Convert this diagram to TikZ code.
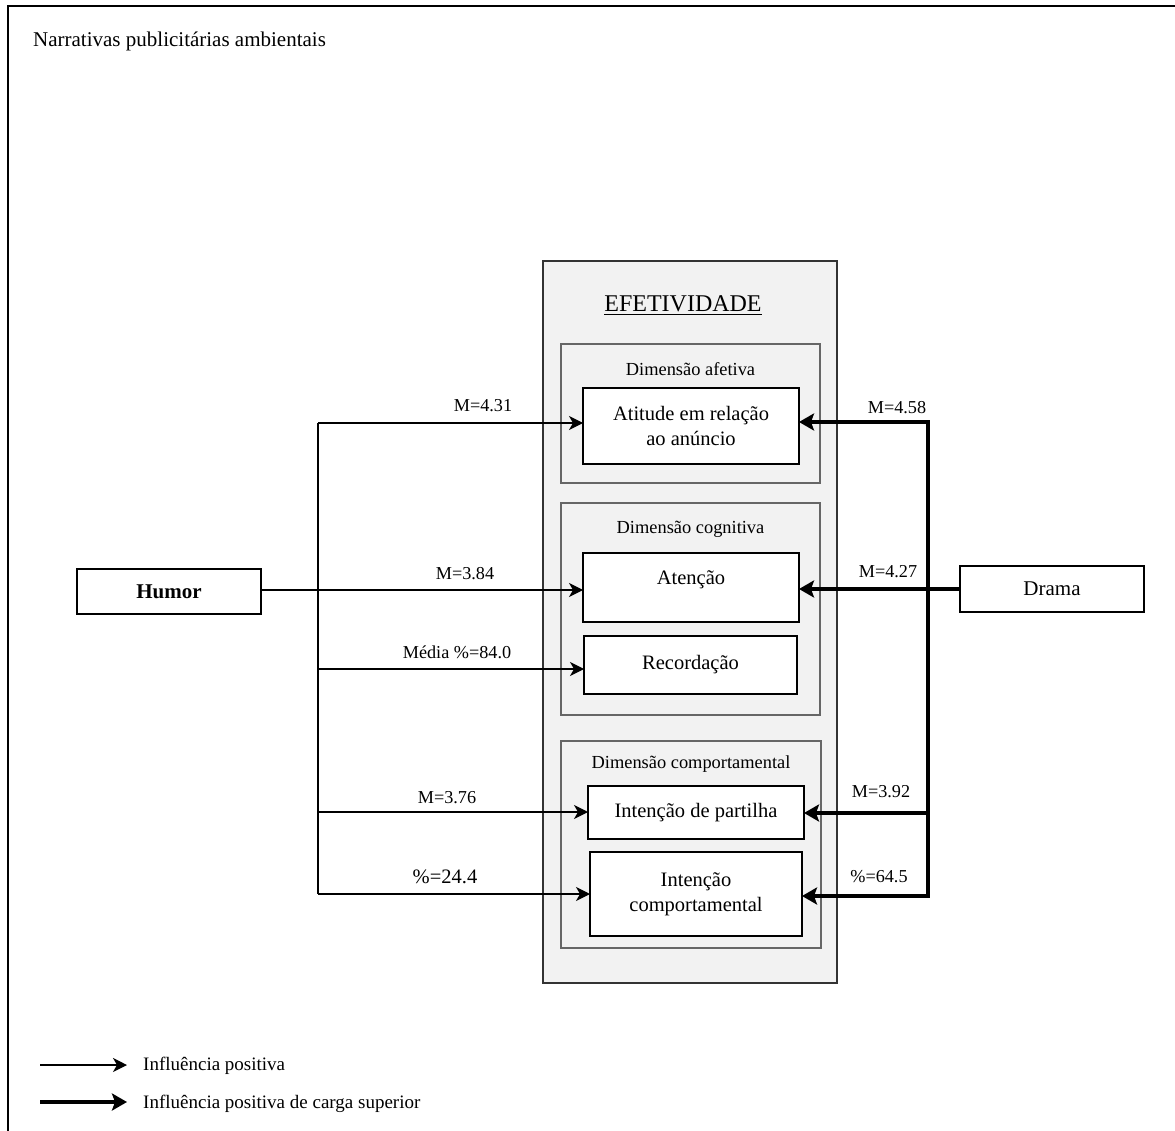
\documentclass[tikz,border=0pt]{standalone}
\usepackage{fontspec}
\setmainfont{Liberation Serif}
\usetikzlibrary{arrows.meta}
\definecolor{panel}{HTML}{F2F2F2}
\begin{document}
\begin{tikzpicture}[x=1pt,y=-1pt,
  outerbox/.style={draw=black!80, line width=1.3pt, fill=panel, inner sep=0pt, outer sep=0pt},
  dimbox/.style={draw=black!60, line width=1.3pt, fill=panel, inner sep=0pt, outer sep=0pt},
  wbox/.style={draw=black, line width=2.3pt, fill=white, align=center, inner sep=0pt, outer sep=0pt, font=\fontsize{20.5}{25}\selectfont},
  srcbox/.style={draw=black, line width=2pt, fill=white, align=center, inner sep=0pt, outer sep=0pt, font=\fontsize{21}{25}\selectfont},
  dimlab/.style={anchor=base, inner sep=0pt, font=\fontsize{18.4}{22}\selectfont},
  lab/.style={anchor=base, inner sep=0pt, font=\fontsize{18.2}{22}\selectfont},
  leglab/.style={anchor=base west, inner sep=0pt, font=\fontsize{19}{22}\selectfont},
  thinln/.style={line width=1.2pt},
  thinarr/.style={line width=1.2pt, -{Stealth[length=14pt,width=14pt,inset=4pt]}},
  thickarr/.style={line width=4pt, -{Stealth[length=15pt,width=17pt,inset=3pt]}},
  frame/.style={line width=2pt, draw=black}
]
\useasboundingbox (0,0) rectangle (1175,1131);
% frame
\draw[frame] (8,1131) -- (8,6) -- (1175,6);
\node[anchor=base west, inner sep=0pt, font=\fontsize{21}{25}\selectfont] (title) at (33,47) {Narrativas publicitárias ambientais};

% panels
\node[outerbox, minimum width=294pt, minimum height=722pt] (efet) at (690,622) {};
\node[anchor=base, inner sep=0pt, font=\fontsize{24}{28}\selectfont] (efetlab) at (683,312) {\underline{EFETIVIDADE}};
\node[dimbox, minimum width=259pt, minimum height=139pt] (afet) at (690.5,413.5) {};
\node[dimlab] (afetlab) at (690.5,375) {Dimensão afetiva};
\node[dimbox, minimum width=259pt, minimum height=212pt] (cogn) at (690.5,609) {};
\node[dimlab] (cognlab) at (690.5,533) {Dimensão cognitiva};
\node[dimbox, minimum width=260pt, minimum height=207pt] (comp) at (691,844.5) {};
\node[dimlab] (complab) at (691,768) {Dimensão comportamental};

% white boxes
\node[wbox, minimum width=216pt, minimum height=76pt] (atitude) at (691,426) {Atitude em relação\\ao anúncio};
\node[wbox, minimum width=216pt, minimum height=69pt, label={[yshift=8pt, inner sep=0pt, font=\fontsize{20.5}{25}\selectfont]center:Atenção}] (atencao) at (691,587.5) {};
\node[wbox, minimum width=213pt, minimum height=58pt] (recorda) at (690.5,665) {Recordação};
\node[wbox, minimum width=216pt, minimum height=53pt] (partilha) at (696,812.5) {Intenção de partilha};
\node[wbox, minimum width=212pt, minimum height=84pt] (intcomp) at (696,894) {Intenção\\comportamental};

% sources
\node[srcbox, minimum width=184pt, minimum height=45pt, font=\fontsize{21}{25}\selectfont\bfseries] (humor) at (169,591.5) {Humor};
\node[srcbox, minimum width=184pt, minimum height=46pt] (drama) at (1052,589) {Drama};

% Humor connectors
\coordinate (h1) at (318,423);
\coordinate (h2) at (318,590);
\coordinate (h3) at (318,669);
\coordinate (h4) at (318,812);
\coordinate (h5) at (318,894);
\draw[line width=2pt] (humor.east |- h2) -- (h2);
\draw[thinln] (h1) -- (h5);
\draw[thinarr] (h1) -- (h1 -| atitude.west);
\draw[thinarr] (h2) -- (h2 -| atencao.west);
\draw[thinarr] (h3) -- (h3 -| recorda.west);
\draw[thinarr] (h4) -- (h4 -| partilha.west);
\draw[thinarr] (h5) -- (h5 -| intcomp.west);
\node[lab] (lh1) at (483,411) {M=4.31};
\node[lab] (lh2) at (465,579) {M=3.84};
\node[lab] (lh3) at (457,658) {Média \%=84.0};
\node[lab] (lh4) at (447,803) {M=3.76};
\node[lab, font=\fontsize{20.5}{24}\selectfont] (lh5) at (445,883) {\%=24.4};

% Drama connectors
\coordinate (d1) at (928,422);
\coordinate (d2) at (928,589);
\coordinate (d3) at (928,813);
\coordinate (d4) at (928,896);
\draw[line width=4pt] (drama.west) -- (d2);
\draw[thickarr] (d4) -- (d1) -- (d1 -| atitude.east);
\draw[thickarr] (d2) -- (d2 -| atencao.east);
\draw[thickarr] (d3) -- (d3 -| partilha.east);
\draw[thickarr] (d1) -- (d4) -- (d4 -| intcomp.east);
\node[lab] (ld1) at (897,413) {M=4.58};
\node[lab] (ld2) at (888,577) {M=4.27};
\node[lab] (ld3) at (881,797) {M=3.92};
\node[lab] (ld4) at (879,882) {\%=64.5};

% legend
\coordinate (a1s) at (40,1065);
\coordinate (a1e) at (127,1065);
\coordinate (a2s) at (40,1102);
\coordinate (a2e) at (127,1102);
\draw[thinarr] (a1s) -- (a1e);
\draw[thickarr] (a2s) -- (a2e);
\node[leglab] (leg1) at (143,1070) {Influência positiva};
\node[leglab] (leg2) at (143,1108) {Influência positiva de carga superior};
\end{tikzpicture}
\end{document}
